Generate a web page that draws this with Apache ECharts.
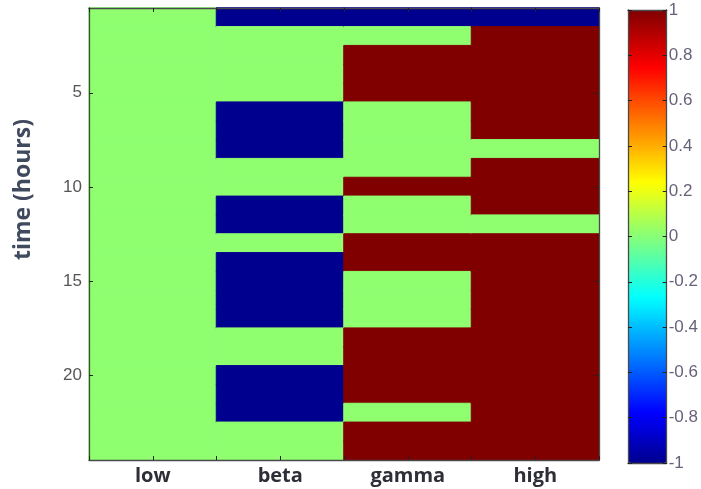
<!DOCTYPE html>
<html>
<head>
<meta charset="utf-8">
<script src="https://cdn.jsdelivr.net/npm/echarts@6/dist/echarts.min.js"></script>
<style>
  html, body { margin: 0; padding: 0; background: #fff; }
  #chart { width: 701px; height: 489px; }
</style>
</head>
<body>
<div id="chart"></div>
<script>
// Frequency bands (columns) and hours (rows)
const bands = ['low', 'beta', 'gamma', 'high'];
const hours = [1, 2, 3, 4, 5, 6, 7, 8, 9, 10, 11, 12, 13, 14, 15, 16, 17, 18, 19, 20, 21, 22, 23, 24];
const yTickLabels = [5, 10, 15, 20];

// State per hour for each band: -1, 0 or 1
const low   = [0, 0, 0, 0, 0, 0, 0, 0, 0, 0, 0, 0, 0, 0, 0, 0, 0, 0, 0, 0, 0, 0, 0, 0];
const beta  = [-1, 0, 0, 0, 0, -1, -1, -1, 0, 0, -1, -1, 0, -1, -1, -1, -1, 0, 0, -1, -1, -1, 0, 0];
const gamma = [-1, 0, 1, 1, 1, 0, 0, 0, 0, 1, 0, 0, 1, 1, 0, 0, 0, 1, 1, 1, 1, 0, 1, 1];
const high  = [-1, 1, 1, 1, 1, 1, 1, 0, 1, 1, 1, 0, 1, 1, 1, 1, 1, 1, 1, 1, 1, 1, 1, 1];

const colorbarTicks = { min: -1, max: 1, step: 0.2 };

// 64-level jet colormap
function jet64(i) { // i: 1..64
  const c = x => Math.max(0, Math.min(1, x));
  const r = c(Math.min((i - 24) / 16, (72 - i) / 16));
  const g = c(Math.min((i - 8) / 16, (56 - i) / 16));
  const b = c(Math.min((i + 8) / 16, (40 - i) / 16));
  const h = x => Math.round(x * 255).toString(16).padStart(2, '0');
  return '#' + h(r) + h(g) + h(b);
}
const jetColors = [];
for (let i = 1; i <= 64; i++) jetColors.push(jet64(i));
function colorFor(v) {
  const lo = colorbarTicks.min, hi = colorbarTicks.max;
  const idx = Math.min(64, Math.floor((v - lo) / (hi - lo) * 64) + 1);
  return jet64(idx);
}

const columns = [low, beta, gamma, high];
const cells = [];
columns.forEach((col, x) => {
  col.forEach((v, y) => {
    const c = colorFor(v);
    cells.push({ value: [x, y, v], itemStyle: { color: c, borderColor: c, borderWidth: 1 } });
  });
});

const frame = { show: true, onZero: false, lineStyle: { color: '#4a4a4a', width: 1.3 } };
const tick = { show: true, inside: true, length: 4, lineStyle: { color: '#222' } };
const showTick = (idx) => yTickLabels.indexOf(hours[idx]) >= 0;

const chart = echarts.init(document.getElementById('chart'), null, { renderer: 'canvas' });
chart.setOption({
  animation: false,
  backgroundColor: '#fff',
  grid: [
    { left: 89, top: 8, width: 510, height: 452 },
    { left: 628, top: 10, width: 39, height: 453 }
  ],
  xAxis: [
    { type: 'category', gridIndex: 0, data: bands, position: 'bottom', z: 10,
      axisLine: { show: false }, axisTick: { show: false }, splitLine: { show: false },
      axisLabel: { margin: 6, fontFamily: 'Open Sans', fontWeight: 'bold', fontSize: 20, color: '#2e2e38' } },
    { type: 'value', gridIndex: 0, min: 0, max: 4, interval: 0.5, position: 'bottom', z: 10,
      axisLine: frame, axisLabel: { show: false }, splitLine: { show: false }, axisTick: tick },
    { type: 'value', gridIndex: 0, min: 0, max: 4, interval: 0.5, position: 'top', z: 10,
      axisLine: frame, axisLabel: { show: false }, splitLine: { show: false }, axisTick: tick },
    { type: 'value', gridIndex: 1, min: 0, max: 1, position: 'bottom', z: 10,
      axisLine: frame, axisLabel: { show: false }, splitLine: { show: false }, axisTick: { show: false } },
    { type: 'value', gridIndex: 1, min: 0, max: 1, position: 'top', z: 10,
      axisLine: frame, axisLabel: { show: false }, splitLine: { show: false }, axisTick: { show: false } }
  ],
  yAxis: [
    { type: 'category', gridIndex: 0, data: hours, inverse: true, position: 'left', z: 10,
      axisLine: frame, splitLine: { show: false },
      axisTick: Object.assign({}, tick, { alignWithLabel: true, interval: showTick }),
      axisLabel: { interval: showTick, margin: 7, fontFamily: 'Liberation Sans', fontSize: 17, color: '#555' } },
    { type: 'category', gridIndex: 0, data: hours, inverse: true, position: 'right', z: 10,
      axisLine: frame, splitLine: { show: false }, axisLabel: { show: false },
      axisTick: Object.assign({}, tick, { alignWithLabel: true, interval: showTick }) },
    { type: 'value', gridIndex: 1, min: colorbarTicks.min, max: colorbarTicks.max, interval: colorbarTicks.step, position: 'right', z: 10,
      axisLine: frame, splitLine: { show: false }, axisTick: tick,
      axisLabel: { margin: 2, align: 'left', fontFamily: 'Liberation Sans', fontSize: 17, color: '#67627a',
        formatter: v => String(+v.toFixed(1)) } },
    { type: 'value', gridIndex: 1, min: colorbarTicks.min, max: colorbarTicks.max, interval: colorbarTicks.step, position: 'left', z: 10,
      axisLine: frame, splitLine: { show: false }, axisLabel: { show: false }, axisTick: tick }
  ],
  visualMap: {
    type: 'continuous', min: colorbarTicks.min, max: colorbarTicks.max,
    seriesIndex: [], calculable: false, hoverLink: false,
    orient: 'vertical', left: 628, top: 10, padding: 0,
    itemWidth: 39, itemHeight: 453, text: null, showLabel: false,
    inRange: { color: jetColors }
  },
  graphic: [
    { type: 'text', left: 12, top: 119, rotation: Math.PI / 2,
      style: { text: 'time (hours)', fontFamily: 'Open Sans', fontWeight: 'bold', fontSize: 23, fill: '#3f4a5e' } }
  ],
  series: [
    { type: 'heatmap', xAxisIndex: 0, yAxisIndex: 0, data: cells,
      emphasis: { disabled: true } }
  ]
});
</script>
</body>
</html>
